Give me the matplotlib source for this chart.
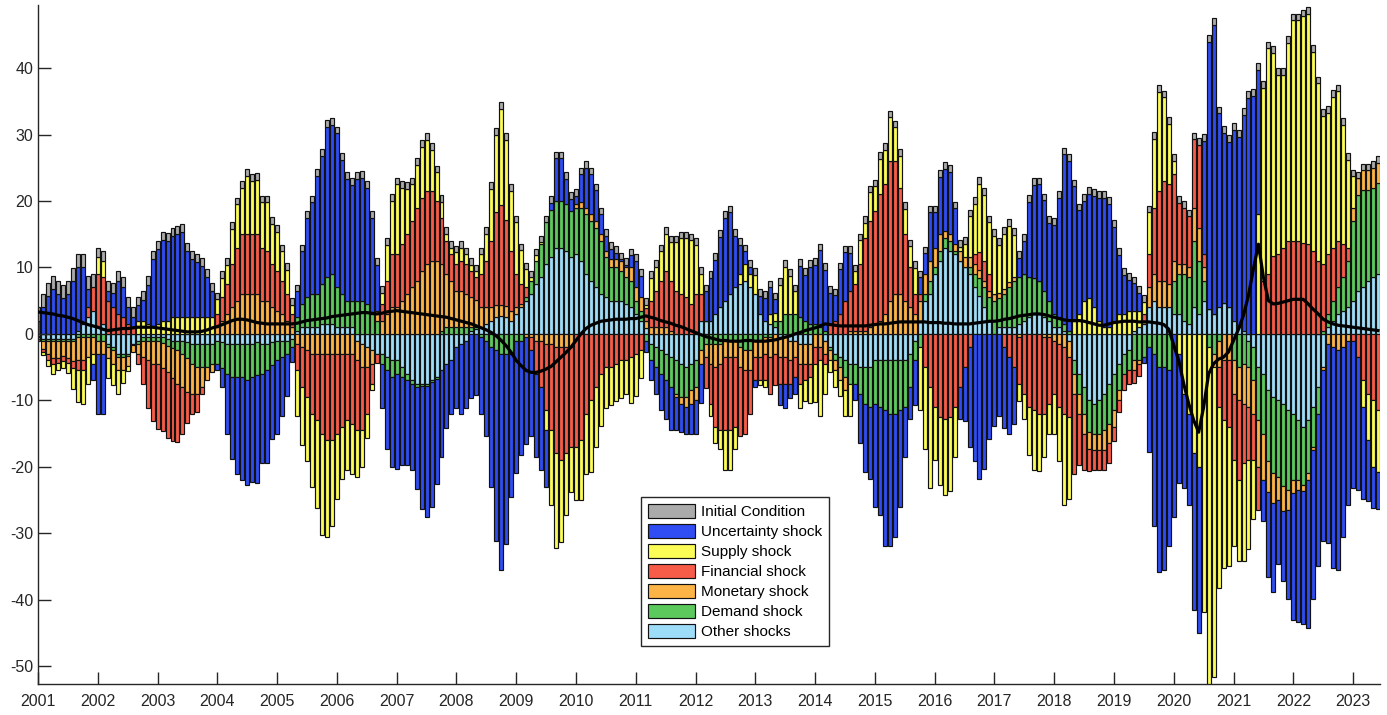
import numpy as np
import matplotlib.pyplot as plt

plt.rcParams['font.family'] = ['Liberation Sans', 'DejaVu Sans']
plt.rcParams['axes.unicode_minus'] = False

# monthly contributions, Jan 2001 - Jun 2023 (one row per year)
initial_condition = [
    2, 2, 2, 2, 2, 2, 2, 2, 2, 2, 2, 2,
    1.5, 1.5, 1.5, 1.5, 1.5, 1.5, 1.5, 1.5, 1.3, 1.3, 1.3, 1.3,
    1.2, 1.2, 1.2, 1.2, 1.2, 1.2, 1.2, 1.2, 1.2, 1.2, 1.2, 1.2,
] + [1] * (19 * 12 + 6)

uncertainty = [
    2, 4, 5.7, 6.7, 6, 5.4, 6, 7.9, 9.5, 8.5, 2.7, -2.5,
    -9, -9, 1.5, 2.2, 5, 4.5, 2.5, 1.5, 2.3, 3.1, 5.9, 10,
    11.3, 12.2, 12, 12.3, 12.6, 12.8, 10, 8.7, 8.3, 7.7, 6, 4,
    -1, -2.8, -9.1, -12.3, -14.6, -15.5, -15.8, -15.8, -16.3, -13.5, -14, -11.1,
    -11.1, -8.9, -6.4, -2.2, 3.9, 7.9, 12, 13.8, 17.8, 19.3, 22.7, 22.5,
    23.2, 20.2, 18.3, 17.4, 18.3, 18.5, 17.5, 14.5, 6.9, -6.6, -11.9, -13.6,
    -14.3, -13.3, -12.7, -13, -15.3, -18.5, -19.7, -18.7, -15.8, -13, -9.6, -8.1,
    -9.2, -10.6, -10.1, -9.7, -9.2, -11.6, -14.4, -21, -28.7, -32.6, -28.7, -21.6,
    -20, -17.3, -16.1, -12.9, -12.5, -12.5, -8.5, 1, 6.4, 6.4, 3.8, 1.8,
    1.3, 4.2, 6, 6, 4.6, 3, 2.3, 1.6, 0.9, 0.2, 0.4, 1.8,
    4, 3.2, -1.7, -3, -4.1, -5.4, -5.8, -6.4, -4.9, -4.3, -4, -4.5,
    -5, -5.9, 4.4, 6.4, 8.1, 10.6, 12.5, 12.3, 7.8, 4.4, 1.9, 1.1,
    -1, 2.7, 3.4, 4, 2, -3.2, -3.7, -2.2, -2.5, 7.7, 6.9, 8.6,
    8.9, 11.6, 9.1, 4.7, 3.8, 6.7, 7.3, 5.7, -2.5, -7.4, -10.3, -10.8,
    -15.5, -16.2, -20.4, -20, -18.5, -14.5, -7.5, -4.8, -6.7, 2.5, 3.1, 7.3,
    5.3, 8.6, 9.3, 9.4, 5.4, -4.8, -8.1, -15.1, -19.1, -21.9, -20.3, -15.8,
    -13.8, -12.4, -12.1, -11.5, -8.6, 2.9, 5, 11.4, 14, 14.5, 13.6, 11.7,
    13.4, 18, 25.5, 25.5, 20.2, 15.6, 15, 15.7, 16.8, 18.5, 19.5, 18.6,
    14.1, 8.9, 5.9, 4.6, 4.1, 2.7, -0.9, -15.8, -25.9, -30.9, -30.6, -26.4,
    -27.5, -19.5, -14.2, -13.7, -23.6, -25, 17.1, 40.3, 43.5, 29.2, 25.6, 24.9,
    28.7, 28.7, 32.5, 35.5, 35.8, 21.7, -6.2, -12.8, -13.5, -9.6, -10.6, -13.4,
    -19, -19.8, -19.9, -22.3, -22.4, -22.9, -25.7, -30, -33.2, -33.1, -28.5, -24.7,
    -22.2, -20, -13.8, -9.2, -6.2, -5.6,
]

supply = [
    0, -0.4, -1, -1.4, -1.1, -1.1, -1.5, -3.2, -4.8, -5, -4.1, -1.5,
    2.5, 2.4, -3, -3.2, -3.5, -1.9, -0.8, 0, 2, 2, 1.5, 1.2,
    1.5, 2, 2, 2.5, 2.5, 2.5, 2.5, 2.5, 2.5, 2.5, 2.5, 2.5,
    2.2, 2.9, 2.9, 5.3, 6.5, 7, 8.8, 8, 8.2, 6.8, 7.3, 6.1,
    5.9, 4.4, 3.6, 1.4, -6.9, -8.8, -9.6, -11, -13.2, -15.2, -14.5, -12.9,
    -9.8, -7.8, -7.5, -7.6, -7, -5.6, -3.6, -0.9, 0, 1.7, 5.4, 8,
    10.5, 8.5, 6.8, 5.5, 6.4, 7.7, 7.7, 6.2, 4.3, 2.4, 1.1, 1,
    1.8, 2, 1.5, 0.9, 0.8, 3, 4.1, 7.8, 11.7, 14.5, 12, 9,
    7.8, 5.1, 2.7, 0.5, 0.8, 0.3, -3, -11.3, -14.2, -12.3, -9.2, -6.8,
    -8, -9, -9.1, -10.8, -9.1, -7.8, -6.1, -5.7, -5.6, -5.7, -5.1, -6.9,
    -6.4, -4.2, 0.5, 3.4, 3.6, 4.4, 5.6, 5.8, 7.3, 8.4, 8.9, 9.6,
    7.4, 3, 0, -1.9, -2.4, -2.9, -6, -6, -3.4, 1.5, 2.5, 2,
    2.9, -0.7, -1, 1.5, 1.2, 5.4, 7.1, 5.7, 3.4, -3.7, -3.1, -3.9,
    -5.8, -8.4, -4.6, -1.7, -2.5, -2.4, -3.9, -4.9, 1.9, 3.6, 2.2, 4.3,
    3.7, 5.3, 5.2, 6.6, 5.1, 4.8, 3.8, 3.2, 3.9, -9.4, -12.4, -15.2,
    -8, -10.3, -11.4, -11.2, -7.5, 0.6, 2.1, 6.2, 7.6, 10.3, 9.9, 7.8,
    8.8, 7.3, 8.4, 8.5, 6.4, -2.6, -3.8, -7.3, -9, -8.6, -6.5, -4.5,
    -6.1, -8.1, -13.8, -12.3, 2, 3, 5, 5.4, 4, 2, 1, 1,
    2, 3, 3, 3.5, 3, 2.5, 1.8, 6.3, 10.4, 14.9, 12.6, 9.1,
    2, -3, -9, -12, -18, -20, -41.9, -54, -46.7, -27.3, -22.2, -20.9,
    -12.9, -12.2, -14.7, -13.4, -8.9, 18, 29, 34, 30.6, 27, 26, 29.8,
    33.2, 33.2, 34.1, 34.7, 30, 26.7, 22.3, 21.3, 22.7, 22.5, 18, 13.2,
    4.7, 0, -4, -7, -10, -9.4,
]

financial = [
    -0.2, -0.5, -0.8, -1, -0.8, -0.8, -0.8, -1, -1.5, -1.5, 1.5, 3.5,
    8, 7, 5, 4, 3, 2.5, 1.5, 1, -1.5, -4.1, -7.2, -8.5,
    -9.7, -9.5, -9.8, -9.4, -8.8, -7.1, -4.7, -3.1, -2.7, -1.1, 0, 0,
    2, 3.5, 4.5, 6.5, 8, 9, 9, 9, 9, 8, 7.5, 6.5,
    6, 5, 4, 2, -4, -6, -7, -9, -10, -12, -13, -13,
    -12, -11, -10, -10.5, -10.5, -9.5, -7, -3, -1.4, 2.5, 5, 8,
    8, 8.5, 9, 10, 11, 11, 11, 10.5, 9, 7, 5, 4,
    4, 4.5, 4.5, 4, 3.5, 5, 7, 10, 14, 15, 13, 9,
    5, 3, 1.5, -2, -5, -7, -10, -13, -16, -17, -16, -15,
    -17, -16, -12, -10, -8, -6, -5, -5, -4.5, -4, -4, -3.5,
    -3, -2.5, 2, 4, 5.5, 7, 8.5, 7.5, 6.5, 6, 5.5, 4.5,
    6, 4, -4.6, -6, -9, -10, -11, -11, -10.5, -10.4, -9.5, -6.6,
    -3.5, -3.5, -4, -5.6, -4.7, -4, -4, -3.5, -3, -3, -2.5, -2,
    -2.5, -2, -1.5, 1.5, 2, 3, 5, 6, 7, 10, 14, 16,
    17, 19, 19.5, 21, 20, 16, 10, 6, 3, 1, -5, -8,
    -11, -12.5, -12.8, -12.5, -11, -8, -5, -2, 1.5, 2.7, 3, 2.5,
    0, 0, -2, -3.5, -5, -7, -9, -11, -11.5, -12, -11.5, -10,
    -8, -9.5, -10, -9, -12.1, -7.7, -5.5, -3.3, -3, -3, -3, -3,
    -2.1, -1.7, -2.4, -2.1, -1.9, -1.9, 1, 5, 10, 13.5, 15, 15,
    13, 9.2, 8.5, 7.7, 10.3, 12.5, 2, 0, 0, -6, -9, -10,
    -10, -12, -9, -8, -7, -6.5, 8, 9, 11.7, 12, 13, 14,
    14, 14, 13.7, 13.5, 12.5, 11, 10, 9, 8, 7, 5, 2,
    -1, -3.5, -7, -9, -10, -11.4,
]

monetary = [
    -0.4, -1.2, -2, -2.5, -2.5, -2.2, -2.5, -3, -3.5, -3.5, -3, -2.5,
    -2, -2, -1.7, -2, -2, -2, -1.5, -1, -1.5, -2.5, -3, -3.5,
    -3.5, -3.8, -4, -4.5, -5, -5, -5, -4.5, -4, -3, -2, -1.2,
    1, 2, 3, 4, 5, 6, 6, 6, 6, 5, 5, 4,
    3.5, 3, 2, 1, -1.5, -2, -2.5, -3, -3, -3, -3, -3,
    -3, -3, -3, -3, -3, -3.5, -3, -2, 1.5, 2, 3, 4,
    4, 5, 6, 7, 8, 9.5, 10.5, 11, 11, 10, 8, 7,
    5.5, 5.5, 5, 4.5, 4, 3, 2.5, 2, 1.8, 1.7, 1.7, 1.5,
    1, 0.5, -0.5, -0.5, -1, -1, -1.5, -1.5, -2, -2, -2, -2,
    0.5, 0.8, 1, 1, 1, 1, 1, 1.2, 1.3, 1.5, 1.5, 2,
    2, 2, 1, 1, 1, 1, 1, 0.5, -0.5, -1, -1.5, -2,
    -2, -2, -2, -3, -3.5, -3, -2.5, -2.5, -2.5, -3, -3, -3,
    -2.5, -2.5, -2.5, -3, -3, -3, -3, -3, -2.5, -3, -3, -3,
    -2, -2, -2, -1.5, -1.5, -2, -2, 0.5, 0.5, 0.5, 0.5, 1,
    1.5, 2, 3, 5, 6, 6, 5, 4, 3, 3, 3, 3,
    3, 2.5, 1, 1, 1, 1.5, 1.5, 1.5, 1.5, 1.2, 1, 1,
    1, 0.7, 0.7, 0.8, 0.5, -0.5, 0, 0, 0, 0, -0.5, -0.5,
    -1, -1.5, -2, -2.5, -3, -3, -3, -2.7, -2.5, -2.5, -3, -3,
    -2.5, -1.5, 0, 0, -1.5, -0.5, 0.5, 3, 4, 4, 4, 3.5,
    3, 1.5, 1.5, 1.5, 5, 5, 2, 0, -2, -4, -4, -4,
    -5, -5, -6, -6, -5, -7, -7, -4.7, -4.5, -3.5, -3.7, -3,
    -2, -1.5, -1, -1, -0.5, 0, -0.5, -1.5, -2, -2.5, -2, -1,
    2, 2.5, 3, 3, 3, 3,
]

demand = [
    -0.1, -0.3, -0.3, -0.3, -0.3, -0.3, -0.3, -0.3, -0.5, -0.5, -0.5, -0.5,
    -1, -1, -0.5, -0.5, -0.5, -0.5, -0.3, -0.2, -0.5, -0.5, -0.5, -0.6,
    -0.6, -0.8, -1, -1.2, -1.5, -2, -2.5, -3, -3.5, -3.5, -3.5, -3,
    -3.5, -4, -4.5, -5, -5, -5, -5.5, -5, -5, -4.5, -4, -3.5,
    -3, -2.5, -2, -1.2, 2, 3.5, 4.5, 5, 5, 6, 7, 7.5,
    6, 5, 4, 4, 5, 5, 4.5, 3, 2, -1.5, -2, -2.5,
    -2, -1.5, -1, -0.5, -0.5, -0.3, -0.3, -0.3, -0.3, 0.5, 1, 1,
    1, 1, 1, 0.5, 0.3, -0.5, -1, -2, -2.5, -3, -3, -3,
    -1, -1, 0.5, 2, 3.5, 5, 6.3, 7.2, 7, 7, 7, 7,
    7, 8, 9, 9, 9, 8, 6, 5, 5, 4.5, 4, 4,
    2, 1.5, -1, -2.5, -3, -3.5, -4, -4.5, -5, -5, -4.5, -4,
    -4, -2.5, -1.5, -1.5, -1.5, -1.5, -1, -1, -1, -2, -2.5, -2.5,
    -1, -1, -0.5, -0.5, 1, 2, 3, 3, 3, 2.5, 2, 1.5,
    1.5, 1, 0.5, -0.5, -1, -1.5, -2.5, -3, -3, -4, -5.5, -6,
    -6.5, -7, -7.5, -8, -8, -7.5, -7, -5, -3, -2, 1, 2,
    1, 1.5, 1.5, 1.5, 0.5, 0, 0, 1, 2, 2.7, 3, 3.5,
    5, 4.4, 5, 6, 7, 7, 7, 6, 5.4, 5, 4, 3,
    2, 1.5, 1, 0.5, -2, -3, -4, -4.7, -4.5, -5, -5.5, -6,
    -5.5, -4, -3, -3, -4, -4, -3.5, -2, -3, -5, -5, -5.5,
    5, 6, 7, 7, 10, 8, 3, -2, -3, -1, 0, 0,
    -4, -5, -4.5, -4, -5, -8, -9, -10.7, -11.4, -11.5, -12.4, -12,
    -10, -9, -8.7, -8, -6, -4, 0.5, 2, 3, 4, 5, 7,
    12, 14.4, 14.6, 13.6, 13.5, 13.7,
]

other = [
    -0.3, -0.8, -0.8, -0.8, -0.8, -0.8, -0.8, -0.8, 0.5, 1.5, 2.5, 3.5,
    1, 1.5, -1.5, -2, -3, -3, -3, -1.5, -1, -0.5, -0.5, -0.5,
    -0.5, -0.5, -0.8, -1, -1, -1, -1.2, -1.5, -1.5, -1.5, -1.5, -1.5,
    -1, -1.2, -1.5, -1.5, -1.5, -1.5, -1.5, -1.5, -1.2, -1.5, -1.5, -1.2,
    -1, -1, -1, -0.8, 0.5, 1, 1, 1, 1, 1.5, 1.5, 1.5,
    1, 1, 1, 1, -1, -1.5, -2, -2.5, -3, -3, -3.5, -4,
    -4, -5, -6, -7, -7.5, -7.5, -7.5, -7, -6.5, -5.5, -4.5, -4,
    -2, -1.5, -1, 0.5, 0.8, 1, 1.5, 2, 2.5, 2.7, 2.5, 2,
    3, 4, 5, 6, 7.5, 8.5, 10.5, 11.5, 13, 13, 12.5, 11.5,
    12, 11, 9, 8, 7, 6, 5.5, 5, 5, 5, 4.5, 4,
    3, 2, 0.9, -1.5, -2, -2.5, -3, -3.5, -4, -4.5, -5, -4.5,
    -4, 2, 2, 2, 3, 4, 5, 6, 7, 7.5, 8, 7,
    6, 3, 2, 1.5, 1, -0.5, -0.5, -1, -1, -1.5, -1.5, -1.5,
    0, 0, -1, -2, -3, -3.5, -4, -4.5, -4.5, -5, -5, -5,
    -4, -4, -4, -4, -4, -4, -4, -3, -1, 2, 5, 6,
    9, 11, 13, 12.5, 12, 11, 10, 9, 7, 5.7, 4, 2,
    0, 1, 1, 1, 1, 1.5, 2, 2.5, 3, 3, 2.5, 2,
    1, 1, 0.5, -1, -4, -6, -8, -10, -10.5, -10, -9, -7.5,
    -6, -4.5, -3, -2.5, 0.5, 1, 1.5, 4, 5, 4, 4, 4,
    3, 3, 2, 1.5, 4, 3, 5, 3.7, 3, 4, 4.7, 4,
    2, 1, 0.5, -1, -2, -5, -6, -8.4, -9.5, -10, -10.5, -11.5,
    -12, -13, -14, -13, -11, -8, -5, 1, 2, 3, 3.5, 4,
    5, 6.5, 7, 8, 8.5, 9,
]

# observed series (black line)
actual = [
    3.3, 3.2, 3.1, 3.0, 2.8, 2.7, 2.5, 2.3, 2.0, 1.7, 1.4, 1.2,
    1.0, 0.7, 0.5, 0.6, 0.7, 0.8, 0.8, 0.9, 1.0, 1.0, 1.0, 1.0,
    0.9, 0.8, 0.7, 0.6, 0.5, 0.4, 0.3, 0.3, 0.3, 0.4, 0.6, 0.9,
    1.1, 1.4, 1.7, 2.0, 2.2, 2.2, 2.1, 1.9, 1.7, 1.6, 1.5, 1.5,
    1.5, 1.5, 1.5, 1.5, 1.6, 1.8, 2.0, 2.1, 2.2, 2.3, 2.4, 2.6,
    2.7, 2.8, 2.9, 3.0, 3.1, 3.2, 3.2, 3.1, 3.0, 3.1, 3.3, 3.4,
    3.5, 3.4, 3.3, 3.2, 3.1, 3.0, 2.9, 2.8, 2.7, 2.6, 2.5, 2.3,
    2.1, 1.9, 1.7, 1.5, 1.2, 0.9, 0.6, 0.2, -0.3, -1.0, -1.8, -2.8,
    -4.0, -4.8, -5.5, -5.8, -5.8, -5.6, -5.3, -4.9, -4.2, -3.5, -2.8, -2.0,
    -1.0, 0.0, 0.8, 1.3, 1.6, 1.9, 2.0, 2.1, 2.2, 2.2, 2.2, 2.3,
    2.3, 2.5, 2.7, 2.5, 2.3, 2.0, 1.8, 1.6, 1.3, 1.1, 0.8, 0.5,
    0.2, -0.1, -0.4, -0.6, -0.8, -1.0, -1.0, -1.1, -1.1, -1.1, -1.0, -1.0,
    -1.1, -1.1, -1.1, -1.0, -0.9, -0.7, -0.5, -0.3, 0.0, 0.2, 0.5, 0.7,
    0.9, 1.2, 1.5, 1.4, 1.3, 1.2, 1.2, 1.2, 1.2, 1.2, 1.2, 1.3,
    1.4, 1.5, 1.5, 1.6, 1.7, 1.8, 1.8, 1.8, 1.8, 1.8, 1.8, 1.7,
    1.7, 1.7, 1.6, 1.6, 1.5, 1.5, 1.5, 1.5, 1.6, 1.7, 1.8, 1.9,
    1.9, 2.0, 2.2, 2.3, 2.5, 2.7, 2.8, 2.9, 3.0, 3.0, 2.9, 2.7,
    2.5, 2.3, 2.1, 2.0, 2.0, 2.0, 1.9, 1.7, 1.5, 1.3, 1.3, 1.5,
    1.7, 1.8, 1.9, 1.9, 1.9, 1.8, 1.8, 1.8, 1.7, 1.6, 1.4, 0.7,
    -1.7, -4.0, -7.5, -10.5, -13.0, -14.8, -11.0, -6.0, -4.5, -3.8, -3.5, -2.7,
    -1.0, 0.7, 2.8, 5.8, 9.8, 13.5, 8.5, 5.0, 4.5, 4.6, 4.8, 5.0,
    5.2, 5.2, 5.2, 4.5, 3.7, 3.0, 2.2, 1.8, 1.5, 1.3, 1.2, 1.1,
    1.0, 0.9, 0.8, 0.7, 0.6, 0.5,
]

labels = ['Initial Condition', 'Uncertainty shock', 'Supply shock', 'Financial shock',
          'Monetary shock', 'Demand shock', 'Other shocks']
colors = ['#ABABAB', '#2F4DF2', '#FCFC57', '#F75C48', '#FDB447', '#5CC95C', '#9EDDF7']
series = [initial_condition, uncertainty, supply, financial, monetary, demand, other]

n = len(actual)
x = 2001 + np.arange(n) / 12.0

fig = plt.figure(figsize=(13.87, 7.15), dpi=100)
ax = fig.add_axes([38 / 1387, 1 - 684 / 715, 1342 / 1387, 679 / 715])

# stack outward from zero: other shocks innermost, initial condition outermost
pos_base = np.zeros(n)
neg_base = np.zeros(n)
handles = {}
for vals, lab, col in reversed(list(zip(series, labels, colors))):
    v = np.asarray(vals, dtype=float)
    base = np.where(v >= 0, pos_base, neg_base)
    bars = ax.bar(x, v, width=0.8 / 12, bottom=base, color=col,
                  edgecolor='#111111', linewidth=0.85, label=lab)
    handles[lab] = bars
    pos_base += np.clip(v, 0, None)
    neg_base += np.clip(v, None, 0)

ax.plot(x, actual, color='black', linewidth=2.3, zorder=5)

ax.set_xlim(2001, 2023.45)
ax.set_ylim(-52.7, 49.5)
ax.set_xticks(np.arange(2001, 2024))
ax.set_xticklabels([str(y) for y in range(2001, 2024)])
ax.set_yticks(np.arange(-50, 41, 10))

for side in ['top', 'right']:
    ax.spines[side].set_visible(False)
for side in ['left', 'bottom']:
    ax.spines[side].set_color('#262626')
    ax.spines[side].set_linewidth(1.0)
ax.tick_params(direction='in', length=9, width=1, colors='#262626', labelsize=11.5)
ax.tick_params(axis='x', pad=7)

leg = ax.legend([handles[l] for l in labels], labels, loc='lower left',
                bbox_to_anchor=(0.4493, 0.056), fontsize=11, frameon=True,
                fancybox=False, edgecolor='#262626', framealpha=1,
                handlelength=3.1, handleheight=1.0, handletextpad=0.4,
                labelspacing=0.32, borderpad=0.45, borderaxespad=0)
leg.get_frame().set_linewidth(1.0)

fig.savefig('out.png', dpi=100)
